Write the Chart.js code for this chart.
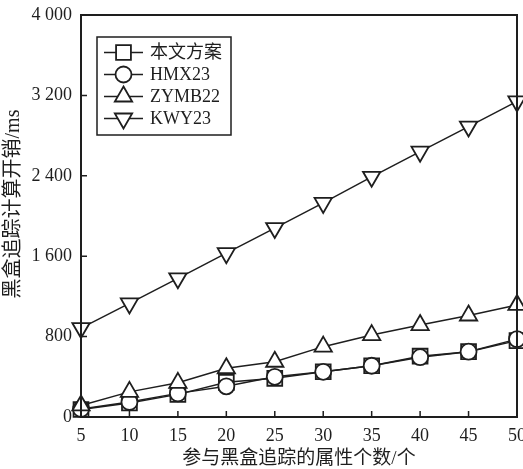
<!DOCTYPE html>
<html>
<head>
<meta charset="utf-8">
<script src="https://cdn.jsdelivr.net/npm/chart.js@4.4.0/dist/chart.umd.min.js"></script>
<style>
  html, body { margin: 0; padding: 0; background: #fff; overflow: hidden; }
  #wrap { width: 534px; height: 469px; }
</style>
</head>
<body>
<div id="wrap"><canvas id="costChart" width="534" height="469"></canvas></div>
<script>
// --- Data ---
const attrCounts = [5, 10, 15, 20, 25, 30, 35, 40, 45, 50];
const yTickValues = [0, 800, 1600, 2400, 3200, 4000];
const seriesNames = ["本文方案", "HMX23", "ZYMB22", "KWY23"];
const oursCost = [75, 140, 225, 345, 385, 450, 510, 605, 650, 760];
const hmx23Cost = [80, 150, 235, 305, 400, 450, 510, 595, 650, 775];
const zymb22Cost = [115, 250, 340, 485, 550, 700, 815, 915, 1010, 1115];
const kwy23Cost = [885, 1130, 1380, 1630, 1880, 2130, 2390, 2640, 2890, 3140];
const xTitle = "参与黑盒追踪的属性个数/个";
const yTitle = "黑盒追踪计算开销/ms";

const INK = "#1e1e1e";
const SERIF = '"Liberation Serif", "Noto Sans CJK SC", serif';

// marker style per series: [pointStyle, radius, rotation]
const markers = [
  ["rect", 10.5, 0],
  ["circle", 8, 0],
  ["triangle", 10, 0],
  ["triangle", 10, 180],
];
const seriesValues = [oursCost, hmx23Cost, zymb22Cost, kwy23Cost];

function fmtThousands(v) {
  return String(v).replace(/\B(?=(\d{3})+(?!\d))/g, " ");
}

// --- Frame, inward ticks, y title and boxed legend ---
const framePlugin = {
  id: "frame",
  afterDatasetsDraw(chart) {
    const { ctx, chartArea: a, scales } = chart;
    ctx.save();
    ctx.strokeStyle = INK;
    ctx.lineWidth = 2;
    ctx.strokeRect(a.left, a.top, a.right - a.left, a.bottom - a.top);

    ctx.lineWidth = 1.5;
    ctx.beginPath();
    scales.x.ticks.forEach((t, i) => {
      const px = scales.x.getPixelForTick(i);
      ctx.moveTo(px, a.bottom);
      ctx.lineTo(px, a.bottom - 6);
    });
    scales.y.ticks.forEach((t, i) => {
      const py = scales.y.getPixelForTick(i);
      ctx.moveTo(a.left, py);
      ctx.lineTo(a.left + 6, py);
    });
    ctx.stroke();

    // y axis title, a bit above the plot's middle as in the figure
    ctx.translate(14, 204);
    ctx.rotate(-Math.PI / 2);
    ctx.fillStyle = INK;
    ctx.font = "20px " + SERIF;
    ctx.textAlign = "center";
    ctx.textBaseline = "middle";
    ctx.fillText(yTitle, 0, 0);
    ctx.restore();
  },
  afterDraw(chart) {
    const ctx = chart.ctx;
    const box = { x: 97, y: 37, w: 134, h: 98 };
    ctx.save();
    ctx.fillStyle = "#fff";
    ctx.fillRect(box.x, box.y, box.w, box.h);
    ctx.strokeStyle = INK;
    ctx.lineWidth = 1.5;
    ctx.strokeRect(box.x, box.y, box.w, box.h);

    chart.data.datasets.forEach((ds, i) => {
      const y = 52.5 + i * 22;
      ctx.strokeStyle = INK;
      ctx.lineWidth = 1.5;
      ctx.beginPath();
      ctx.moveTo(104, y);
      ctx.lineTo(143, y);
      ctx.stroke();
      ctx.fillStyle = "#fff";
      ctx.lineWidth = 1.8;
      Chart.helpers.drawPoint(ctx, {
        pointStyle: markers[i][0],
        radius: markers[i][1],
        rotation: markers[i][2],
        borderWidth: 1.8,
      }, 123.5, y);
      ctx.fillStyle = INK;
      ctx.font = "18px " + SERIF;
      ctx.textBaseline = "middle";
      ctx.fillText(ds.label, 150, y + 1);
    });
    ctx.restore();
  },
};

const datasets = seriesNames.map((name, i) => ({
  label: name,
  data: seriesValues[i],
  borderColor: INK,
  borderWidth: 1.5,
  pointStyle: markers[i][0],
  pointRadius: markers[i][1],
  pointRotation: markers[i][2],
  pointBackgroundColor: "#fff",
  pointBorderColor: INK,
  pointBorderWidth: 1.8,
  tension: 0,
  clip: false,
  order: seriesNames.length - i,
}));

new Chart(document.getElementById("costChart"), {
  type: "line",
  data: { labels: attrCounts, datasets },
  options: {
    responsive: false,
    animation: false,
    devicePixelRatio: 1,
    layout: { padding: { top: 15, right: 0, left: 0, bottom: 0 } },
    plugins: { legend: { display: false }, tooltip: { enabled: false } },
    scales: {
      x: {
        type: "category",
        offset: false,
        grid: { display: false, drawTicks: false },
        border: { display: false },
        ticks: { color: INK, padding: 8, maxRotation: 0, font: { family: SERIF, size: 18 } },
        title: {
          display: true,
          text: xTitle,
          color: INK,
          padding: { top: 0, bottom: 0 },
          font: { family: SERIF, size: 19, lineHeight: 1.1 },
        },
        afterFit: (s) => { s.height = 52; },
      },
      y: {
        min: 0,
        max: 4000,
        afterBuildTicks: (s) => { s.ticks = yTickValues.map((v) => ({ value: v })); },
        grid: { display: false, drawTicks: false },
        border: { display: false },
        ticks: { color: INK, padding: 9, callback: (v) => fmtThousands(v), font: { family: SERIF, size: 18 } },
        afterFit: (s) => {
          s.width = 81;
          s.paddingTop = 0;
          s.paddingBottom = 0;
        },
      },
    },
  },
  plugins: [framePlugin],
});
</script>
</body>
</html>
